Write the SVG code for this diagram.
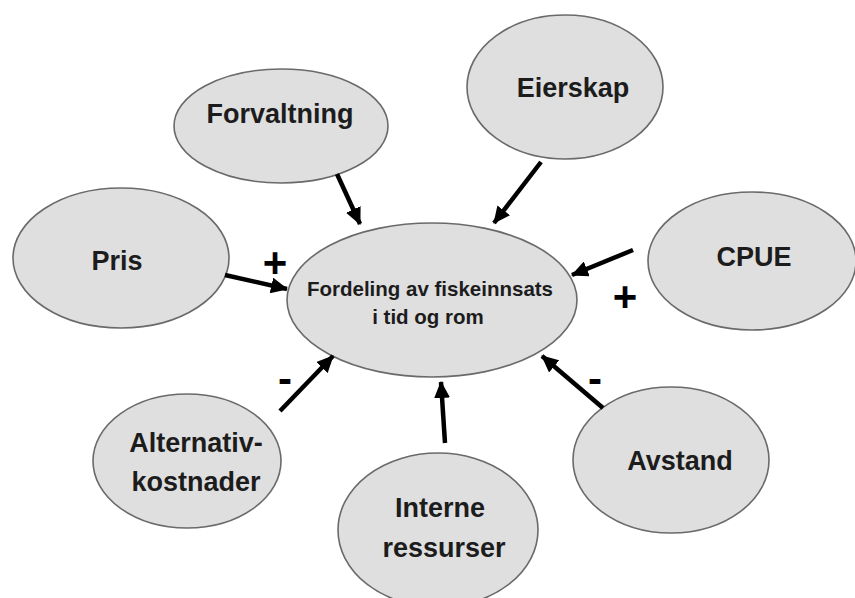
<svg xmlns="http://www.w3.org/2000/svg" width="855" height="598" viewBox="0 0 855 598">
<style>
.node ellipse{fill:#dfdfdf;stroke:#6a6a6a;stroke-width:1.6}
.node text{font-family:"Liberation Sans",Arial,sans-serif;font-weight:bold;fill:#1c1c1c;text-anchor:middle}
.lbl{font-size:27px}
.ctr{font-size:20.5px}
.conn line{stroke:#000;stroke-width:4.5;marker-end:url(#ah)}
.sign{font-family:"Liberation Sans",Arial,sans-serif;font-weight:bold;fill:#000;text-anchor:middle;font-size:42px}
</style>
<defs>
<marker id="ah" markerUnits="userSpaceOnUse" markerWidth="18" markerHeight="16" refX="16" refY="8" orient="auto">
<path d="M0,0 L17,8 L0,16 z" fill="#000"/>
</marker>
</defs>
<rect width="855" height="598" fill="#fff"/>
<g id="n-center" class="node">
<ellipse cx="432" cy="300" rx="145" ry="77"/>
<text class="ctr" x="430" y="296">Fordeling av fiskeinnsats</text>
<text class="ctr" x="428" y="324">i tid og rom</text>
</g>
<g id="n-forvaltning" class="node">
<ellipse cx="281" cy="126" rx="107" ry="57"/>
<text class="lbl" x="280" y="123">Forvaltning</text>
</g>
<g id="n-eierskap" class="node">
<ellipse cx="565" cy="87" rx="98" ry="72"/>
<text class="lbl" x="573" y="97">Eierskap</text>
</g>
<g id="n-pris" class="node">
<ellipse cx="121" cy="258" rx="108" ry="70"/>
<text class="lbl" x="117" y="270">Pris</text>
</g>
<g id="n-cpue" class="node">
<ellipse cx="752" cy="261" rx="104" ry="69"/>
<text class="lbl" x="754" y="266">CPUE</text>
</g>
<g id="n-alternativ" class="node">
<ellipse cx="187" cy="461" rx="94" ry="67"/>
<text class="lbl" x="196" y="452">Alternativ-</text>
<text class="lbl" x="196" y="491">kostnader</text>
</g>
<g id="n-interne" class="node">
<ellipse cx="438" cy="530" rx="100" ry="77"/>
<text class="lbl" x="440" y="517">Interne</text>
<text class="lbl" x="444" y="557">ressurser</text>
</g>
<g id="n-avstand" class="node">
<ellipse cx="671" cy="460" rx="98" ry="73"/>
<text class="lbl" x="680" y="470">Avstand</text>
</g>
<g id="connectors" class="conn">
<line x1="337" y1="174" x2="360" y2="224"/>
<line x1="541" y1="162" x2="494" y2="223"/>
<line x1="225" y1="275" x2="287" y2="289"/>
<line x1="633" y1="250" x2="572" y2="275"/>
<line x1="280" y1="411" x2="333" y2="356"/>
<line x1="445" y1="443" x2="441" y2="382"/>
<line x1="603" y1="408" x2="542" y2="356"/>
</g>
<g id="signs">
<text class="sign" x="275" y="277">+</text>
<text class="sign" x="625" y="311">+</text>
<text class="sign" x="285" y="393">-</text>
<text class="sign" x="595" y="393">-</text>
</g>
</svg>
